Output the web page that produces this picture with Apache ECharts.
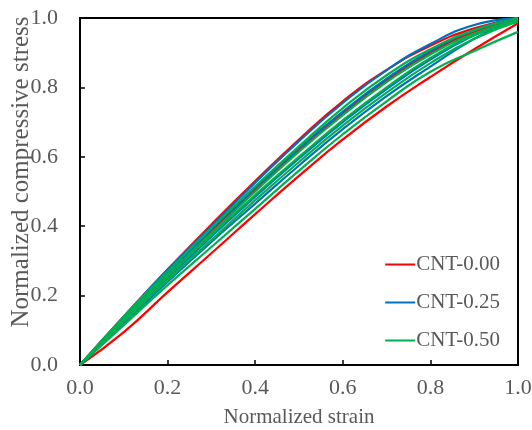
<!DOCTYPE html>
<html>
<head>
<meta charset="utf-8">
<script src="https://cdn.jsdelivr.net/npm/echarts@6/dist/echarts.min.js"></script>
<style>
  html, body { margin: 0; padding: 0; background: #fff; }
  #main { width: 532px; height: 430px; }
</style>
</head>
<body>
<div id="main"></div>
<script>
    // normalized strain (x) shared by every curve
    var strain = [0, 0.1, 0.2, 0.3, 0.4, 0.5, 0.6, 0.7, 0.8, 0.9, 1.0];

    // CNT-0.00 specimens
    var red1 = [0, 0.14, 0.275, 0.405, 0.53, 0.65, 0.76, 0.85, 0.92, 0.97, 1.0];
    var red2 = [0, 0.13, 0.26, 0.385, 0.505, 0.62, 0.725, 0.82, 0.9, 0.96, 0.995];
    var red3 = [0, 0.095, 0.21, 0.322, 0.435, 0.545, 0.65, 0.745, 0.83, 0.91, 0.985];

    // CNT-0.25 specimens
    var blue1 = [0, 0.14, 0.275, 0.40, 0.525, 0.645, 0.755, 0.85, 0.925, 0.98, 1.0];
    var blue2 = [0, 0.135, 0.265, 0.39, 0.51, 0.625, 0.73, 0.825, 0.905, 0.965, 1.0];
    var blue3 = [0, 0.125, 0.25, 0.37, 0.485, 0.595, 0.70, 0.795, 0.88, 0.95, 1.0];
    var blue4 = [0, 0.12, 0.24, 0.355, 0.465, 0.575, 0.68, 0.775, 0.86, 0.94, 1.0];

    // CNT-0.50 specimens
    var green1 = [0, 0.14, 0.27, 0.395, 0.515, 0.63, 0.74, 0.835, 0.91, 0.965, 1.0];
    var green2 = [0, 0.135, 0.26, 0.38, 0.5, 0.615, 0.72, 0.815, 0.895, 0.955, 0.995];
    var green3 = [0, 0.13, 0.255, 0.375, 0.49, 0.6, 0.705, 0.80, 0.885, 0.95, 0.99];
    var green4 = [0, 0.125, 0.245, 0.36, 0.475, 0.585, 0.69, 0.785, 0.87, 0.94, 0.99];
    var green5 = [0, 0.115, 0.23, 0.34, 0.45, 0.56, 0.665, 0.76, 0.845, 0.905, 0.96];

    var groups = [
        { name: 'CNT-0.00', color: '#ff0000', curves: [red1, red2, red3] },
        { name: 'CNT-0.25', color: '#0070c0', curves: [blue1, blue2, blue3, blue4] },
        { name: 'CNT-0.50', color: '#00b050', curves: [green1, green2, green3, green4, green5] }
    ];

    var font = '"Times New Roman", "Liberation Serif", serif';
    var textColor = '#595959';

    var series = [];
    groups.forEach(function (g) {
        g.curves.forEach(function (ys) {
            series.push({
                name: g.name,
                type: 'line',
                smooth: true,
                symbol: 'none',
                lineStyle: { color: g.color, width: 2.2 },
                itemStyle: { color: g.color },
                data: strain.map(function (x, i) { return [x, ys[i]]; })
            });
        });
    });

    var axisCommon = {
        type: 'value',
        min: 0,
        max: 1,
        interval: 0.2,
        nameLocation: 'middle',
        axisLine: { show: true, lineStyle: { color: '#000', width: 2 } },
        axisTick: { show: true, inside: true, length: 5, lineStyle: { color: '#000', width: 1.5 } },
        splitLine: { show: false },
        axisLabel: {
            fontFamily: font, fontSize: 22, color: textColor,
            formatter: function (v) { return v.toFixed(1); }
        }
    };

    var option = {
        animation: false,
        backgroundColor: '#fff',
        grid: {
            left: 80, right: 14, top: 18, bottom: 65,
            outerBoundsMode: 'none',
            show: true, borderColor: '#000', borderWidth: 2
        },
        legend: {
            orient: 'vertical',
            right: 27,
            top: 249,
            itemGap: 17,
            itemWidth: 30,
            itemHeight: 2,
            icon: 'rect',
            textStyle: { fontFamily: font, fontSize: 21, color: textColor, padding: [0, 0, 0, -4] },
            data: groups.map(function (g) { return { name: g.name, itemStyle: { color: g.color } }; })
        },
        // y-axis title sits a little above the plot centre, as in the original
        graphic: [{
            type: 'text',
            x: 21,
            y: 172,
            rotation: Math.PI / 2,
            style: {
                text: 'Normalized compressive stress',
                font: '25px ' + font,
                fill: textColor,
                align: 'center',
                verticalAlign: 'middle'
            }
        }],
        xAxis: Object.assign({}, axisCommon, {
            name: 'Normalized strain',
            nameGap: 42,
            nameTextStyle: { fontFamily: font, fontSize: 21, color: textColor },
            axisLabel: Object.assign({}, axisCommon.axisLabel, { margin: 12 })
        }),
        yAxis: Object.assign({}, axisCommon, {
            axisLabel: Object.assign({}, axisCommon.axisLabel, { margin: 22 })
        }),
        series: series
    };

    var myChart = echarts.init(document.getElementById('main'));
    myChart.setOption(option);
</script>
</body>
</html>
